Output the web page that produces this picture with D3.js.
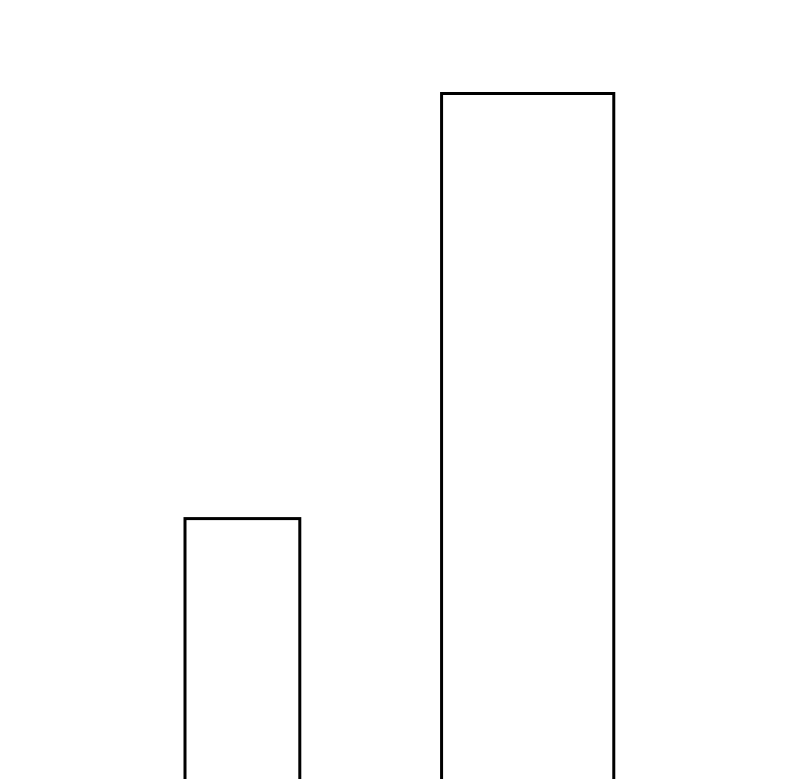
<!DOCTYPE html>
<html>
<head>
<meta charset="utf-8">
<script src="https://cdn.jsdelivr.net/npm/d3@7"></script>
<style>
  html, body { margin: 0; padding: 0; background: #fff; overflow: hidden; }
</style>
</head>
<body>
<div id="chart"></div>
<script>
const categories = ["A", "B"];
const values = [40, 100];
const barStarts = [0, 4.47];
const barWidths = [2, 3];

const width = 800;
const height = 779;

const data = categories.map((c, i) => ({
  name: c,
  value: values[i],
  start: barStarts[i],
  size: barWidths[i],
}));

const x = d3.scaleLinear().domain([0, 7.5]).range([185, 615.5]);
const y = d3.scaleLinear().domain([0, 100]).range([802, 93.5]);

const svg = d3
  .select("#chart")
  .append("svg")
  .attr("width", width)
  .attr("height", height);

svg
  .append("g")
  .selectAll("rect")
  .data(data)
  .enter()
  .append("rect")
  .attr("x", (d) => x(d.start))
  .attr("y", (d) => y(d.value))
  .attr("width", (d) => x(d.start + d.size) - x(d.start))
  .attr("height", (d) => y(0) - y(d.value))
  .attr("fill", "none")
  .attr("stroke", "#000")
  .attr("stroke-width", 3);
</script>
</body>
</html>
